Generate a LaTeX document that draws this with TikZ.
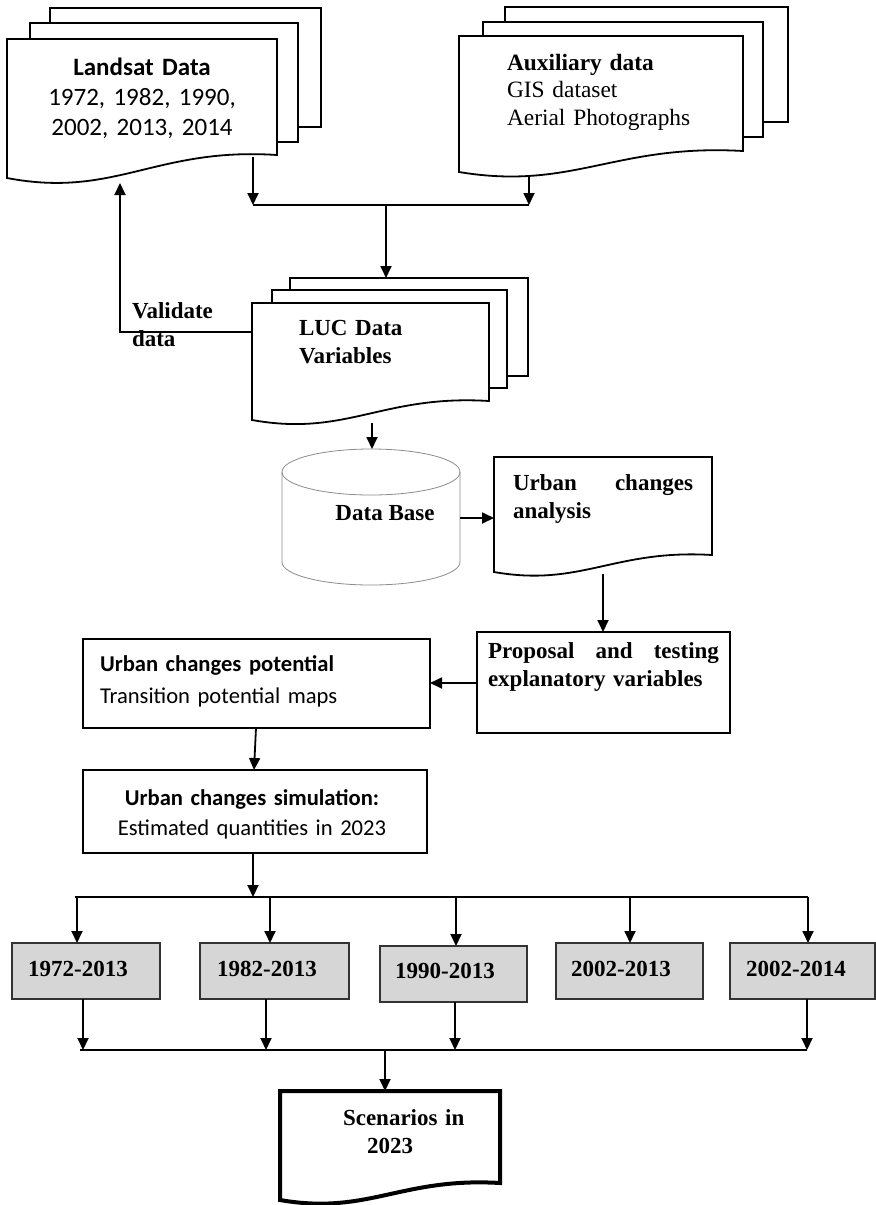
\documentclass[tikz,border=0pt]{standalone}
\usepackage{fontspec}
\setmainfont{Liberation Serif}
\newfontfamily\calibri{Carlito}
\usetikzlibrary{arrows.meta,fit}

% document shape: [style]{L}{T}{R}{BR}{BL}
\newcommand{\docshape}[6][]{%
  \pgfmathsetmacro\dW{#4-#2}%
  \pgfmathsetmacro\dD{#6-#5}%
  \draw[doc,#1] (#2,#3) -- (#4,#3) -- (#4,#5)
    .. controls ({#2+0.55*\dW},{#5-0.35*\dD}) and ({#2+0.4*\dW},{#6+0.9*\dD}) .. (#2,#6) -- cycle;}

\begin{document}
\begin{tikzpicture}[x=0.5pt,y=-0.5pt,
  every node/.style={inner sep=0pt,outer sep=0pt},
  ln/.style={line width=0.9pt,draw=black},
  arr/.style={ln,-{Triangle[length=6pt,width=5.5pt]}},
  doc/.style={ln,fill=white},
  page/.style={ln,fill=white},
  box/.style={draw=black,line width=0.9pt,inner sep=0pt},
  greybox/.style={draw=black!80,line width=0.8pt,fill=black!16,inner sep=0pt},
  cyl/.style={draw=black!45,line width=0.4pt},
  hold/.style={draw=none,inner sep=0pt},
  tb/.style={font=\bfseries\fontsize{11.5}{14}\selectfont},
  tr/.style={font=\fontsize{11.7}{13.75}\selectfont},
  cal/.style={font=\calibri\fontsize{12.5}{15}\selectfont},
  cals/.style={font=\calibri\fontsize{11.3}{16}\selectfont},
]
\useasboundingbox (0,0) rectangle (876,1205);
\fill[white] (0,0) rectangle (876,1205);

% ---------- Landsat stack
\draw[page] (50,8) rectangle (321,127);
\draw[page] (30,23) rectangle (298,142);
\docshape{7}{39}{277}{155}{178}
\node[hold,fit={(7,39)(277,178)}] (landsat) {};
\node[cal,text width=120pt,align=center,anchor=base] (landsatText) at (142,75)
  {\textbf{Landsat Data}\\1972, 1982, 1990,\\2002, 2013, 2014};

% ---------- Auxiliary stack
\draw[page] (505,7) rectangle (788,122);
\draw[page] (483,22) rectangle (763,137);
\docshape{459}{36}{743}{151}{172}
\node[hold,fit={(459,36)(743,172)}] (aux) {};
\node[tr,text width=110pt,align=left,anchor=base west] (auxText) at (507,70)
  {\textbf{Auxiliary data}\\GIS dataset\\Aerial Photographs};

% ---------- junction 1
\coordinate (landsatOut) at (253,157);
\coordinate (auxOut) at (529,177);
\coordinate (j1L) at (253,205);
\coordinate (j1R) at (529,205);
\coordinate (j1M) at (386,205);
\draw[arr] (landsatOut) -- (j1L);
\draw[arr] (auxOut) -- (j1R);
\draw[ln] (j1L) -- (j1R);

% ---------- LUC stack
\draw[page] (290,278) rectangle (528,376);
\draw[page] (272,290) rectangle (507,388);
\docshape{252}{303}{489}{401}{420}
\node[hold,fit={(252,278)(528,420)}] (luc) {};
\node[tb,text width=70pt,align=left,anchor=base west] (lucText) at (299,335.5)
  {LUC Data\\Variables};
\coordinate (lucTop) at (386,278);
\draw[arr] (j1M) -- (lucTop);

% ---------- validate loop
\coordinate (lucLeft) at (252,332);
\coordinate (valCorner) at (120,332);
\coordinate (landsatIn) at (120,183);
\draw[arr] (lucLeft) -- (valCorner) -- (landsatIn);
\node[tb,text width=60pt,align=left,anchor=base west] (valText) at (132,318.5)
  {Validate\\data};

% ---------- Data base cylinder
\draw[cyl,fill=white] (282,472) -- (282,562)
  arc[start angle=180,end angle=360,x radius=44.5pt,y radius=11.5pt] -- (460,472);
\draw[cyl] (371,472) ellipse [x radius=44.5pt,y radius=11.5pt];
\node[hold,fit={(282,449)(460,585)}] (db) {};
\node[tb,anchor=base] (dbText) at (385,520.5) {Data Base};
\coordinate (lucOut) at (372,423);
\coordinate (dbTop) at (372,449);
\draw[arr] (lucOut) -- (dbTop);

% ---------- Urban changes analysis
\docshape{494}{457}{712}{555}{572}
\node[hold,fit={(494,457)(712,572)}] (analysis) {};
\node[tb,text width=90pt,align=left,anchor=base west] (analysisText) at (513,490.5)
  {Urban\hfill changes\\analysis};
\coordinate (dbRight) at (460,518);
\coordinate (anLeft) at (494,518);
\draw[arr] (dbRight) -- (anLeft);

% ---------- Proposal
\node[box,fit={(477,632)(730,733)}] (proposal) {};
\node[tb,text width=115.5pt,align=left,anchor=base west] (proposalText) at (488,658.5)
  {Proposal\hfill and\hfill testing\\explanatory variables};
\coordinate (anOut) at (603,574);
\coordinate (propTop) at (603,632);
\draw[arr] (anOut) -- (propTop);

% ---------- Potential
\node[box,fit={(83,639)(430,728)}] (potential) {};
\node[cals,text width=160pt,align=left,anchor=base west] (potentialText) at (100,671)
  {\textbf{Urban changes potential}\\Transition potential maps};
\coordinate (propLeft) at (477,683);
\coordinate (potRight) at (430,683);
\draw[arr] (propLeft) -- (potRight);

% ---------- Simulation
\node[box,fit={(83,770)(427,853)}] (simulation) {};
\node[cals,font=\calibri\fontsize{11.3}{15}\selectfont,text width=160pt,align=center,anchor=base] (simText) at (252,805)
  {\textbf{Urban changes simulation:}\\Estimated quantities in 2023};
\coordinate (potOut) at (256,728);
\coordinate (simIn) at (254,770);
\draw[arr] (potOut) -- (simIn);

% ---------- fan out
\coordinate (simOut) at (253,853);
\coordinate (fanMid) at (253,897);
\coordinate (fanL) at (75,897);
\coordinate (fanR) at (808,897);
\draw[arr] (simOut) -- (fanMid);
\draw[ln] (fanL) -- (fanR);

\node[greybox,fit={(12,943)(160,999)}] (g1) {};
\node[greybox,fit={(200,943)(349,999)}] (g2) {};
\node[greybox,fit={(380,946)(527,1002)}] (g3) {};
\node[greybox,fit={(556,943)(703,999)}] (g4) {};
\node[greybox,fit={(730,943)(875,999)}] (g5) {};
\node[tb,anchor=base] (g1t) at (78,976.5) {1972-2013};
\node[tb,anchor=base] (g2t) at (267,976.5) {1982-2013};
\node[tb,anchor=base] (g3t) at (445,978.5) {1990-2013};
\node[tb,anchor=base] (g4t) at (621,976.5) {2002-2013};
\node[tb,anchor=base] (g5t) at (796,976.5) {2002-2014};

\coordinate (f1) at (77,897);
\coordinate (f2) at (270,897);
\coordinate (f3) at (456,897);
\coordinate (f4) at (630,897);
\coordinate (f5) at (808,897);
\draw[arr] (f1) -- (f1 |- g1.north);
\draw[arr] (f2) -- (f2 |- g2.north);
\draw[arr] (f3) -- (f3 |- g3.north);
\draw[arr] (f4) -- (f4 |- g4.north);
\draw[arr] (f5) -- (f5 |- g5.north);

% ---------- fan in
\coordinate (b1) at (83,1050);
\coordinate (b2) at (266,1050);
\coordinate (b3) at (455,1050);
\coordinate (b5) at (807,1050);
\coordinate (binL) at (80,1050);
\coordinate (binM) at (385,1050);
\draw[arr] (b1 |- g1.south) -- (b1);
\draw[arr] (b2 |- g2.south) -- (b2);
\draw[arr] (b3 |- g3.south) -- (b3);
\draw[arr] (b5 |- g5.south) -- (b5);
\draw[ln] (binL) -- (b5);

% ---------- Scenarios
\docshape[line width=2pt]{280}{1091}{500}{1183}{1200}
\node[hold,fit={(280,1091)(500,1200)}] (scenarios) {};
\node[tb,text width=80pt,align=left,anchor=base west] (scenText) at (343,1125.5)
  {Scenarios in\\\hspace*{12pt}2023};
\coordinate (scenTop) at (385,1091);
\draw[arr] (binM) -- (scenTop);
\end{tikzpicture}
\end{document}
